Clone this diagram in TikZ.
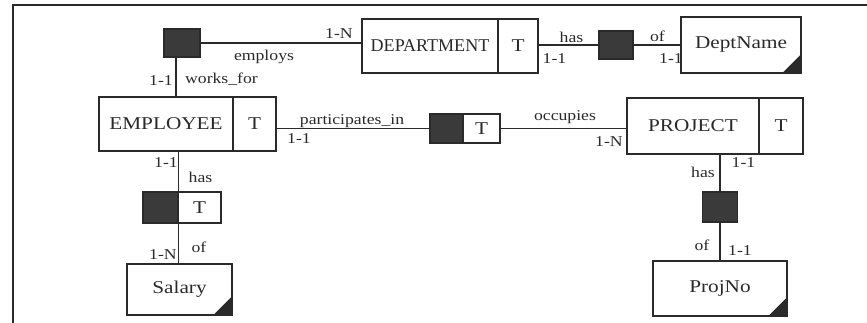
\documentclass[tikz,border=0pt]{standalone}
\usepackage{fontspec}
\setmainfont[FakeStretch=1.18]{Liberation Serif}
\usetikzlibrary{calc}
\definecolor{ink}{HTML}{2A2A2A}
\definecolor{shade}{HTML}{3A3A3A}
\begin{document}
\begin{tikzpicture}[x=1pt,y=-1pt,
  box/.style={draw=ink, line width=1.4pt, inner sep=0pt, text=ink, font=\fontsize{18}{20}\selectfont},
  rel/.style={draw=ink, line width=1.4pt, fill=shade, inner sep=0pt},
  conn/.style={draw=ink, line width=1.3pt},
  corner/.style={fill=ink},
  lab/.style={anchor=base, inner sep=0pt, font=\fontsize{15}{17}\selectfont, text=ink}]
\useasboundingbox (0,0) rectangle (867,323);
\draw[line width=1.5pt, ink] (867,5) -- (13,5) -- (13,323);

% entities
\node[box, minimum width=136pt, minimum height=54pt] (dept) at (430,46) {\scalebox{0.85}[1]{DEPARTMENT}};
\node[box, minimum width=40pt, minimum height=54pt] (deptT) at (518,46) {T};
\node[box, minimum width=134pt, minimum height=54pt] (emp) at (166,124) {EMPLOYEE};
\node[box, minimum width=43pt, minimum height=54pt] (empT) at (254.5,124) {T};
\node[box, minimum width=132pt, minimum height=56pt] (proj) at (693,126) {PROJECT};
\node[box, minimum width=44pt, minimum height=56pt] (projT) at (781,126) {T};

% attributes
\node[box, minimum width=120pt, minimum height=56pt] (dname) at (741,45) {DeptName};
\node[box, minimum width=134pt, minimum height=55pt] (projno) at (720,288.5) {ProjNo};
\node[box, minimum width=105pt, minimum height=51pt] (sal) at (179.5,289.5) {Salary};
\fill[corner] (dname.south east) -- ++(-20,0) -- ++(20,-20) -- cycle;
\fill[corner] (projno.south east) -- ++(-20,0) -- ++(20,-20) -- cycle;
\fill[corner] (sal.south east) -- ++(-20,0) -- ++(20,-20) -- cycle;

% relationships
\node[rel, minimum width=36pt, minimum height=28pt] (sq1) at (182,43) {};
\node[rel, minimum width=34pt, minimum height=28pt] (sq2) at (616,45) {};
\node[rel, minimum width=33pt, minimum height=29pt] (sq3d) at (446.5,128.5) {};
\node[box, minimum width=37pt, minimum height=29pt] (sq3t) at (481.5,128.5) {T};
\node[rel, minimum width=35pt, minimum height=30pt] (sq4) at (720,207) {};
\node[rel, minimum width=35pt, minimum height=31pt] (sq5d) at (160.5,207.5) {};
\node[box, minimum width=43pt, minimum height=31pt] (sq5t) at (199.5,207.5) {T};

% connectors
\draw[conn] (sq1.east) -- (sq1.east -| dept.west);
\draw[conn] (deptT.east |- sq2.west) -- (sq2.west);
\draw[conn] (sq2.east) -- (sq2.east -| dname.west);
\coordinate (c1) at ([xshift=-6pt]sq1.south);
\draw[conn] (c1) -- (c1 |- emp.north);
\draw[conn] (empT.east |- sq3d.west) -- (sq3d.west);
\draw[conn] (sq3t.east) -- (sq3t.east -| proj.west);
\draw[conn] (sq4.north |- proj.south) -- (sq4.north);
\draw[conn] (sq4.south) -- (sq4.south |- projno.north);
\draw[conn] (sq5d.north east |- emp.south) -- (sq5d.north east);
\draw[conn] (sq5d.south east) -- (sq5d.south east |- sal.north);

% labels
\node[lab] (l1) at (339,39) {1-N};
\node[lab] (l2) at (264,60.5) {employs};
\node[lab] (l3) at (161,86) {1-1};
\node[lab] (l4) at (221.5,84) {works\_for};
\node[lab] (l5) at (571.5,43) {has};
\node[lab] (l6) at (554.5,64) {1-1};
\node[lab] (l7) at (657.5,42) {of};
\node[lab] (l8) at (671,64) {1-1};
\node[lab] (l9) at (352,124.5) {participates\_in};
\node[lab] (l10) at (299,144) {1-1};
\node[lab] (l11) at (565,121) {occupies};
\node[lab] (l12) at (609,147) {1-N};
\node[lab] (l13) at (743.5,168) {1-1};
\node[lab] (l14) at (703,178) {has};
\node[lab] (l15) at (702,250) {of};
\node[lab] (l16) at (740,255) {1-1};
\node[lab] (l17) at (166,168) {1-1};
\node[lab] (l18) at (200.5,183) {has};
\node[lab] (l19) at (199,252) {of};
\node[lab] (l20) at (163,259) {1-N};
\end{tikzpicture}
\end{document}
